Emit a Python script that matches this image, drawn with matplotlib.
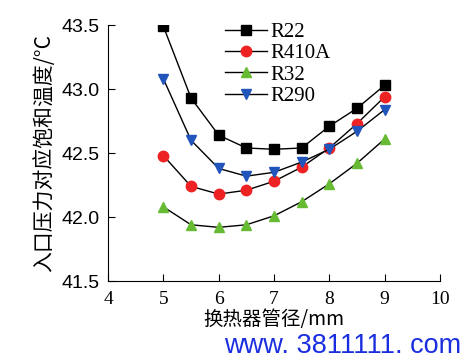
import matplotlib
matplotlib.use("Agg")
import matplotlib.pyplot as plt

x = [5, 5.5, 6, 6.5, 7, 7.5, 8, 8.5, 9]
r22 = [43.49, 42.93, 42.64, 42.54, 42.53, 42.54, 42.71, 42.85, 43.03]
r410a = [42.48, 42.24, 42.18, 42.21, 42.28, 42.39, 42.54, 42.73, 42.94]
r32 = [42.08, 41.94, 41.92, 41.94, 42.01, 42.12, 42.26, 42.42, 42.61]
r290 = [43.08, 42.60, 42.38, 42.32, 42.35, 42.43, 42.53, 42.67, 42.84]
names = ["R22", "R410A", "R32", "R290"]
xticks = [4, 5, 6, 7, 8, 9, 10]
yticks = [41.5, 42.0, 42.5, 43.0, 43.5]

fig = plt.figure(figsize=(4.66, 3.59), dpi=100)
ax = fig.add_axes([0.232, 0.217, 0.712, 0.713])

series = [r22, r410a, r32, r290]
markers = ["s", "o", "^", "v"]
colors = ["#000000", "#ee2222", "#66bb33", "#2255bb"]
for ys, m, c, n in zip(series, markers, colors, names):
    ax.plot(x, ys, color="black", lw=1.0, marker=m, markersize=7.5,
            markerfacecolor=c, markeredgecolor=c, label=n)

ax.set_xlim(4, 10)
ax.set_ylim(41.5, 43.5)
ax.set_xticks(xticks)
ax.set_yticks(yticks)
ax.set_xticklabels([str(v) for v in xticks], family="Liberation Serif", fontsize=14)
ax.set_yticklabels([f"{v:.1f}" for v in yticks], family="Liberation Sans", fontsize=14)
ax.tick_params(axis="x", direction="in", length=5, width=0.8, pad=7)
ax.tick_params(axis="y", direction="in", length=5, width=0.8, pad=6)
for s in ["top", "right"]:
    ax.spines[s].set_visible(False)

ax.set_xlabel("换热器管径/mm", family=["Noto Sans CJK SC", "DejaVu Sans"], fontsize=14, labelpad=1)
ax.set_ylabel("入口压力对应饱和温度/°C", family=["Noto Sans CJK SC", "DejaVu Sans"], fontsize=15, labelpad=5)

leg = ax.legend(loc="upper left", bbox_to_anchor=(0.352, 1.01), frameon=False,
                prop={"family": "Liberation Serif", "size": 15}, borderpad=0,
                borderaxespad=0, handlelength=2.0, handletextpad=0.2,
                labelspacing=0.08)

fig.text(0.99, 0.0, "www. 3811111. com", color="#1a2ee0", fontsize=19.5,
         family="Liberation Sans", ha="right", va="bottom")

fig.savefig("out.png", dpi=100)
